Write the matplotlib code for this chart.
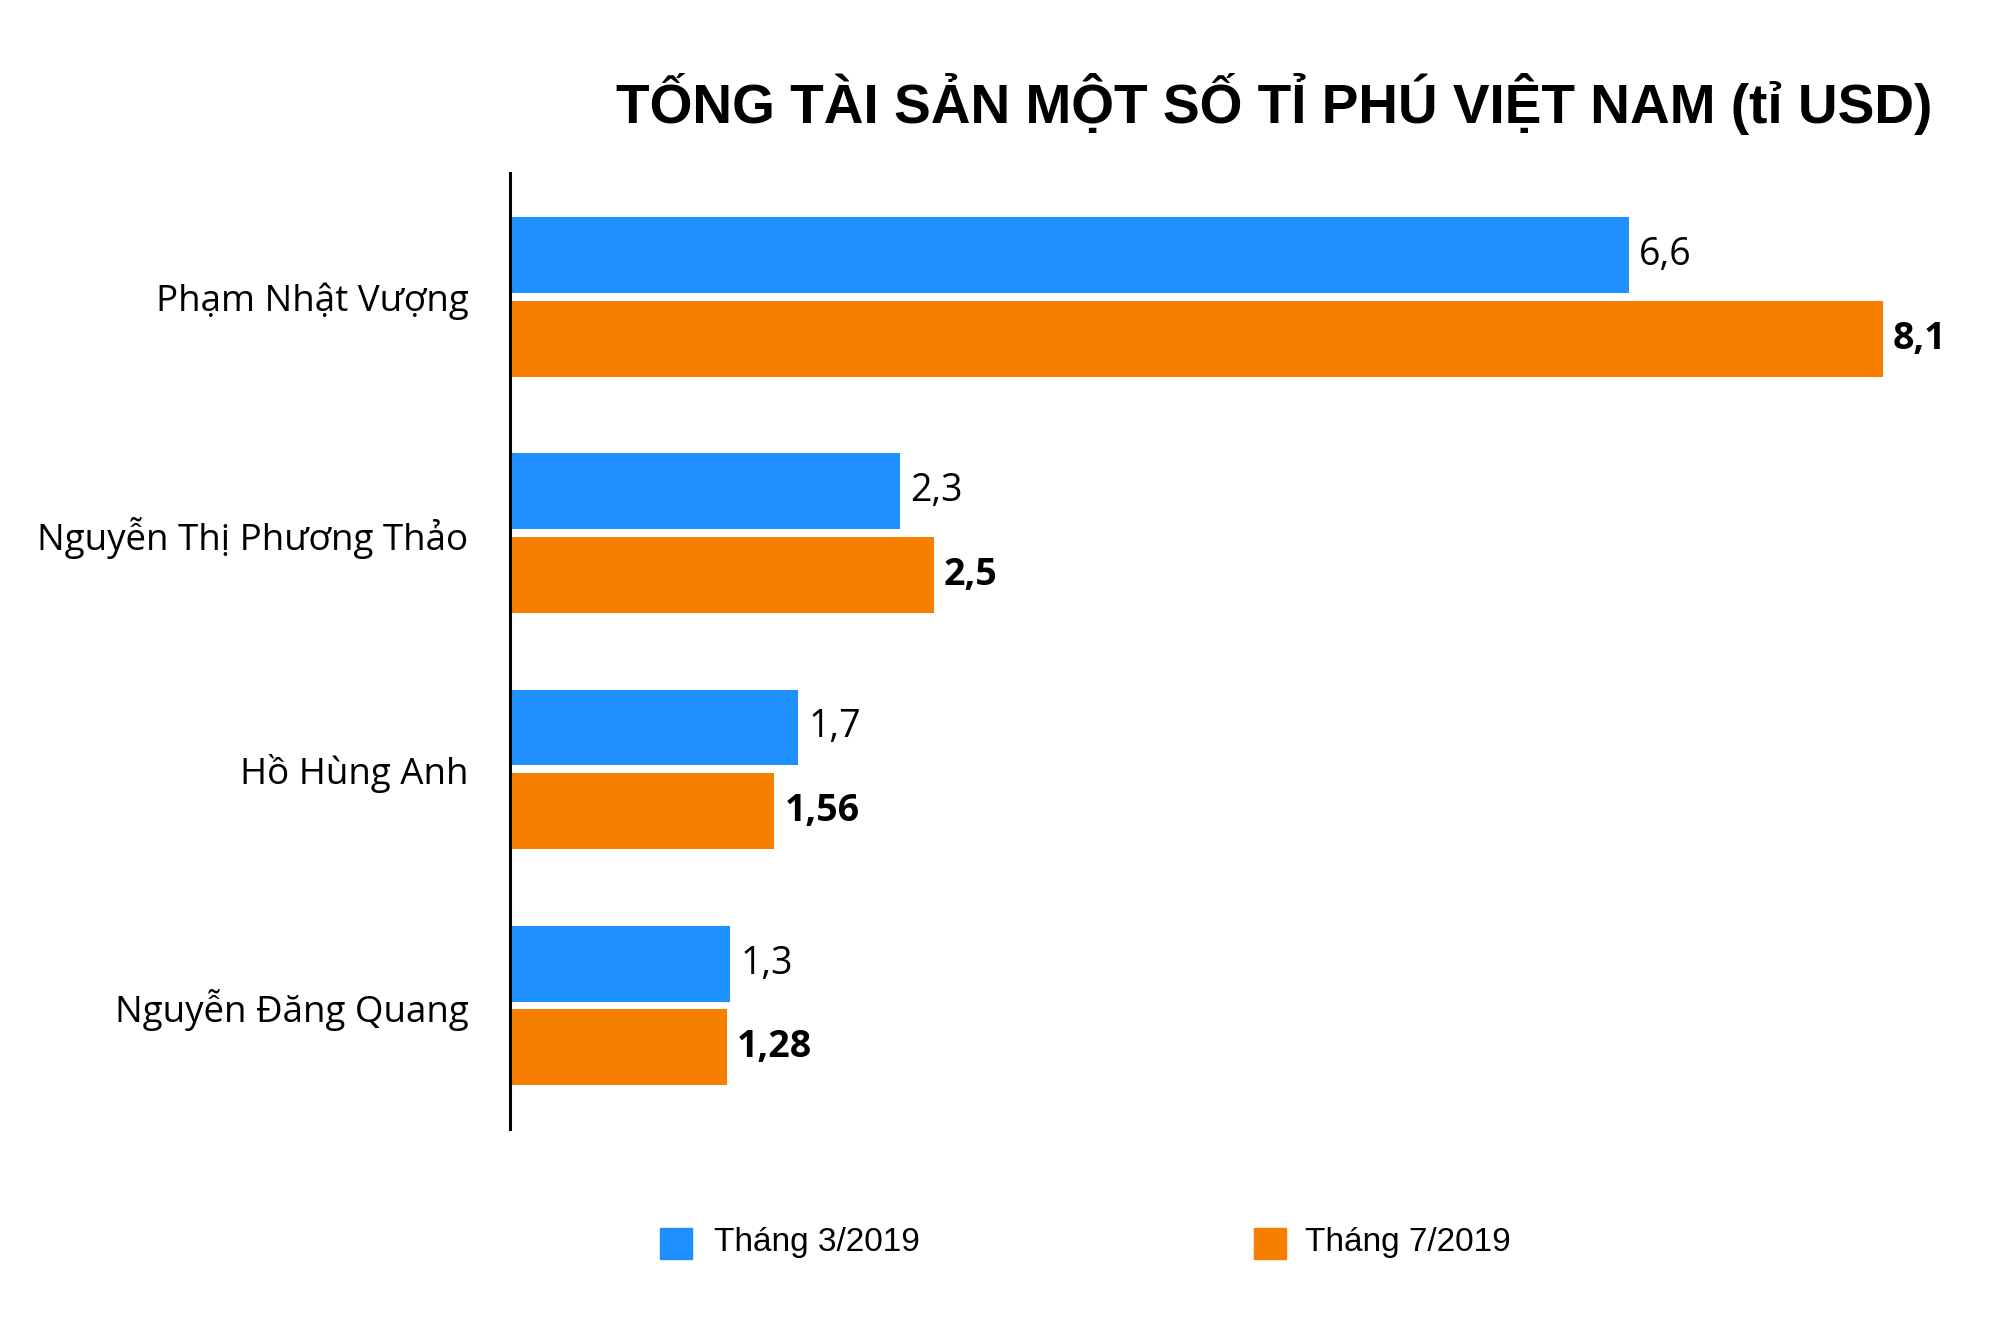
import matplotlib
matplotlib.use("Agg")
import matplotlib.pyplot as plt
from matplotlib.patches import Rectangle
import numpy as np

names = ["Phạm Nhật Vượng", "Nguyễn Thị Phương Thảo", "Hồ Hùng Anh", "Nguyễn Đăng Quang"]
mar_2019 = [6.6, 2.3, 1.7, 1.3]
jul_2019 = [8.1, 2.5, 1.56, 1.28]
mar_labels = ["6,6", "2,3", "1,7", "1,3"]
jul_labels = ["8,1", "2,5", "1,56", "1,28"]
series_names = ["Tháng 3/2019", "Tháng 7/2019"]
title = "TỐNG TÀI SẢN MỘT SỐ TỈ PHÚ VIỆT NAM (tỉ USD)"

BLUE = "#1E90FF"
ORANGE = "#F77F00"
W, H = 2000, 1317
PX = 169.5
G = 236.2
TOP, BOT = 173.3, 1129.3
fig = plt.figure(figsize=(20, 13.17), dpi=100)
ax = fig.add_axes([510 / W, 1 - BOT / H, 8.5 * PX / W, (BOT - TOP) / H])

y = np.arange(len(names))
off = 41.8 / G
hgt = 75.8 / G
ax.barh(y - off, mar_2019, height=hgt, color=BLUE)
ax.barh(y + off, jul_2019, height=hgt, color=ORANGE)
ax.set_xlim(0, 8.5)
ax.set_ylim((BOT - 296.9) / G, (TOP - 296.9) / G)

for sp in ["top", "right", "bottom"]:
    ax.spines[sp].set_visible(False)
ax.spines["left"].set_linewidth(2.2)
ax.spines["left"].set_color("black")
ax.set_xticks([])
ax.set_yticks(y)
ax.set_yticklabels(names, fontsize=26.5, family=["Open Sans", "DejaVu Sans"])
ax.tick_params(axis="y", length=0, pad=30)

dx = 10 / PX
for i in range(len(names)):
    ax.text(mar_2019[i] + dx, y[i] - off, mar_labels[i], va="center", ha="left",
            fontsize=27, family=["Open Sans", "DejaVu Sans"])
    ax.text(jul_2019[i] + dx, y[i] + off, jul_labels[i], va="center", ha="left",
            fontsize=27, fontweight="bold", family=["Open Sans", "DejaVu Sans"])

fig.text(1274 / W, 1 - 104 / H, title, ha="center", va="center", fontsize=39.6,
         fontweight="bold", family=["Liberation Sans", "DejaVu Sans"])

# legend
for (x0, tx), name, col in zip([(660, 714), (1254, 1305)], series_names, [BLUE, ORANGE]):
    fig.add_artist(Rectangle((x0 / W, 1 - 1259 / H), 32 / W, 31 / H,
                             transform=fig.transFigure, color=col))
    fig.text(tx / W, 1 - 1242 / H, name, ha="left", va="center", fontsize=24,
             family=["Liberation Sans", "DejaVu Sans"])

fig.savefig("out.png", dpi=100, facecolor="white")
